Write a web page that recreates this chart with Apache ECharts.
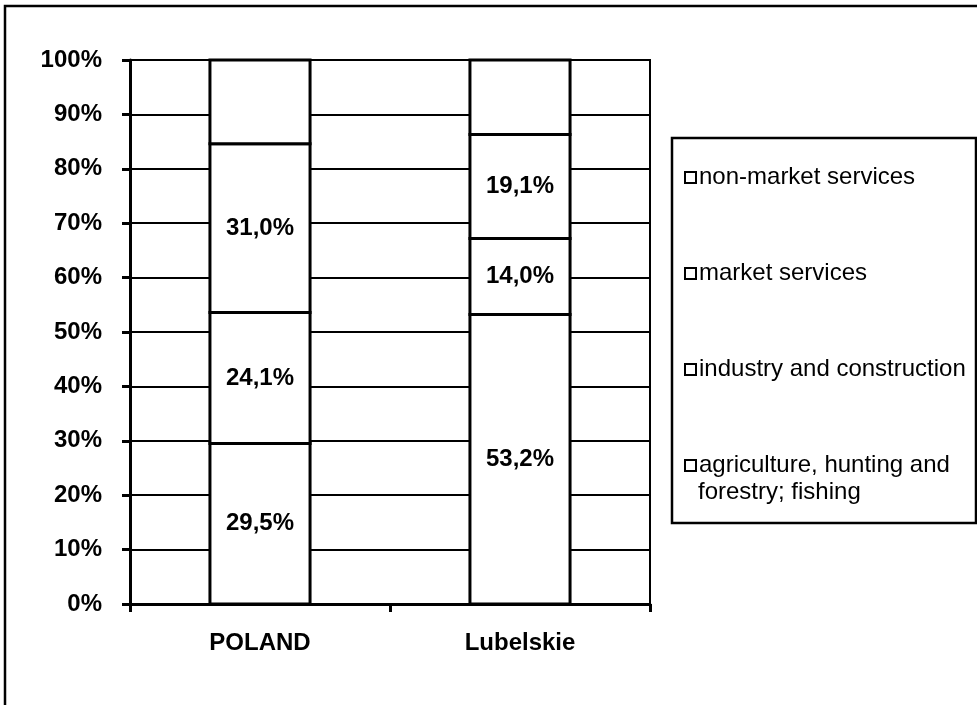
<!DOCTYPE html>
<html>
<head>
<meta charset="utf-8">
<script src="https://cdn.jsdelivr.net/npm/echarts@6/dist/echarts.min.js"></script>
<style>
  html, body { margin: 0; padding: 0; background: #fff; }
  #chart { width: 977px; height: 705px; }
</style>
</head>
<body>
<div id="chart"></div>
<script>
// regions on the x axis
var categories = ["POLAND", "Lubelskie"];
// shares in %, stacked from the bottom up
var agriculture = [29.5, 53.2];
var industry = [24.1, 14.0];
var marketServices = [31.0, 19.1];
var nonMarketServices = [15.4, 13.7];
var yTicks = [0, 10, 20, 30, 40, 50, 60, 70, 80, 90, 100];

var names = {
  agri: "agriculture, hunting and forestry; fishing",
  ind: "industry and construction",
  mkt: "market services",
  non: "non-market services"
};

var font = "'Liberation Sans', Arial, sans-serif";

// stack order, bottom first
var stackList = [
  { name: names.agri, values: agriculture, label: true },
  { name: names.ind, values: industry, label: true },
  { name: names.mkt, values: marketServices, label: true },
  { name: names.non, values: nonMarketServices, label: false }
];

function fmt(v) {
  return v.toFixed(1).replace(".", ",") + "%";
}

// custom rects so neighbouring segments share one 3px edge
function makeSeries(item, idx) {
  var rows = categories.map(function (c, ci) {
    var base = 0;
    for (var k = 0; k < idx; k++) base += stackList[k].values[ci];
    return [ci, item.values[ci], base];
  });
  return {
    name: item.name,
    type: "custom",
    data: rows,
    encode: { x: 0, y: 1 },
    renderItem: function (params, api) {
      var ci = api.value(0), v = api.value(1), base = api.value(2);
      var p0 = api.coord([ci, base]);
      var p1 = api.coord([ci, base + v]);
      var w = api.size([1, 0])[0] * 0.385;
      var el = {
        type: "rect",
        shape: { x: p0[0] - w / 2, y: p1[1], width: w, height: p0[1] - p1[1] },
        style: { fill: "#fff", stroke: "#000", lineWidth: 3 }
      };
      if (item.label) {
        el.textContent = {
          style: {
            text: fmt(v),
            fill: "#000",
            fontFamily: font,
            fontWeight: "bold",
            fontSize: 24
          }
        };
        el.textConfig = { position: "inside" };
      }
      return el;
    }
  };
}

var chart = echarts.init(document.getElementById("chart"));
chart.setOption({
  animation: false,
  backgroundColor: "#fff",
  grid: {
    left: 130, right: 327, top: 60, bottom: 101,
    show: true, borderColor: "#000", borderWidth: 2
  },
  legend: {
    orient: "vertical",
    left: 679,
    top: 159,
    itemWidth: 11,
    itemHeight: 11,
    itemGap: 69,
    icon: "rect",
    selectedMode: false,
    data: [names.non, names.mkt, names.ind, names.agri],
    formatter: function (name) {
      return name === names.agri ? "agriculture, hunting and" : name;
    },
    itemStyle: { color: "#fff", borderColor: "#000", borderWidth: 2 },
    textStyle: {
      fontFamily: font,
      fontSize: 24,
      lineHeight: 27,
      color: "#000",
      padding: [0, 0, 0, -2]
    }
  },
  xAxis: {
    type: "category",
    data: categories,
    axisLine: { lineStyle: { color: "#000", width: 3 } },
    axisTick: { show: true, length: 8, lineStyle: { color: "#000", width: 3 } },
    axisLabel: {
      margin: 27,
      color: "#000",
      fontFamily: font,
      fontWeight: "bold",
      fontSize: 24
    }
  },
  yAxis: {
    type: "value",
    min: yTicks[0],
    max: yTicks[yTicks.length - 1],
    interval: 10,
    axisLine: { show: true, lineStyle: { color: "#000", width: 3 } },
    axisTick: { show: true, length: 8, lineStyle: { color: "#000", width: 3 } },
    splitLine: { show: true, lineStyle: { color: "#000", width: 2 } },
    axisLabel: {
      margin: 28,
      color: "#000",
      fontFamily: font,
      fontWeight: "bold",
      fontSize: 24,
      formatter: "{value}%"
    }
  },
  series: stackList.map(makeSeries),
  graphic: [
    {
      type: "rect",
      shape: { x: 5, y: 6, width: 1100, height: 1100 },
      style: { fill: null, stroke: "#000", lineWidth: 2.5 },
      silent: true, z: 0
    },
    {
      type: "rect",
      shape: { x: 672, y: 138, width: 304, height: 385 },
      style: { fill: null, stroke: "#000", lineWidth: 2.5 },
      silent: true
    },
    {
      // second line of the last legend entry
      type: "text",
      left: 698,
      top: 480,
      style: { text: "forestry; fishing", fill: "#000", fontFamily: font, fontSize: 24 },
      silent: true
    }
  ]
});
</script>
</body>
</html>
